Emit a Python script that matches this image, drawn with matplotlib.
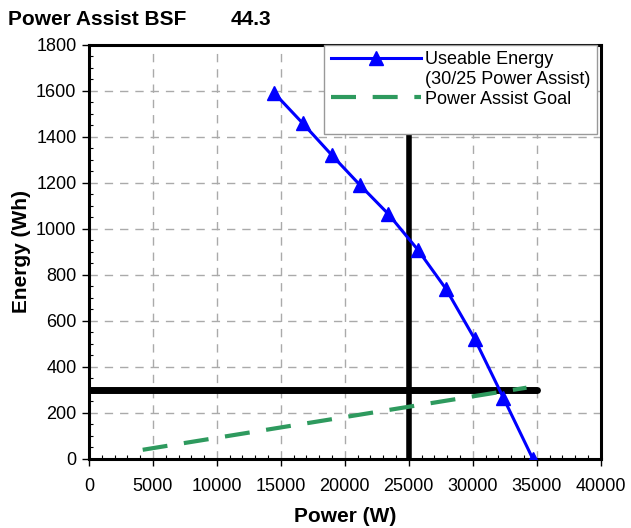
import numpy as np
import matplotlib.pyplot as plt
from matplotlib.ticker import MultipleLocator

plt.rcParams['font.family'] = ['Liberation Sans', 'DejaVu Sans']

# Useable energy curve (30/25 power assist)
power_w = [14500, 16700, 19000, 21200, 23400, 25700, 27900, 30150, 32400, 34700]
energy_wh = [1590, 1460, 1320, 1190, 1065, 910, 740, 522, 265, 0]

# Power assist goal line
goal_power = [4200, 34200]
goal_energy = [40, 310]

# Reference lines
ref_power = 25000
ref_energy = 300
ref_energy_xmax = 35000

fig = plt.figure(figsize=(6.31, 5.28), dpi=100)
ax = fig.add_axes([0.141, 0.1307, 0.811, 0.7841])

ax.plot(power_w, energy_wh, color="#0000ff", lw=2.2, marker="^", markersize=10,
        label="Useable Energy", zorder=4)
# second line of the legend text, no handle
ax.plot([], [], color="none", label="(30/25 Power Assist)")
ax.plot(goal_power, goal_energy, color="#2e9a5e", lw=3, dashes=(6, 4),
        label="Power Assist Goal", zorder=3)
ax.plot([], [], color="none", label=" ")

ax.axvline(ref_power, color="black", lw=4, zorder=2)
ax.plot([0, ref_energy_xmax], [ref_energy, ref_energy], color="black", lw=5,
        solid_capstyle="round", zorder=2)

ax.set_xlim(0, 40000)
ax.set_ylim(0, 1800)
ax.xaxis.set_major_locator(MultipleLocator(5000))
ax.yaxis.set_major_locator(MultipleLocator(200))
ax.xaxis.set_minor_locator(MultipleLocator(1000))
ax.yaxis.set_minor_locator(MultipleLocator(50))
ax.tick_params(which="major", direction="out", length=5, labelsize=13, width=1)
ax.tick_params(axis="x", which="major", pad=9)
ax.tick_params(axis="y", which="major", pad=4)
ax.tick_params(which="minor", direction="in", length=3, width=0.8)
ax.grid(True, which="major", color="#aaaaaa", linestyle=(0, (6, 5)), lw=1)
for s in ax.spines.values():
    s.set_linewidth(2.2)

ax.set_xlabel("Power (W)", fontsize=15, fontweight="bold", labelpad=8)
ax.set_ylabel("Energy (Wh)", fontsize=15, fontweight="bold", labelpad=4)

fig.text(0.013, 0.952, "Power Assist BSF", fontsize=15, fontweight="bold", va="baseline")
fig.text(0.366, 0.952, "44.3", fontsize=15, fontweight="bold", va="baseline")

leg = ax.legend(loc="upper right", bbox_to_anchor=(0.993, 1.0), fontsize=13,
                frameon=True, fancybox=False, handlelength=5.0, labelspacing=0.15,
                borderaxespad=0.0, handletextpad=0.25, borderpad=0.35)
leg.get_frame().set_edgecolor("#999999")
leg.get_frame().set_linewidth(1)
leg.get_frame().set_alpha(1)

fig.savefig("out.png", dpi=100)
